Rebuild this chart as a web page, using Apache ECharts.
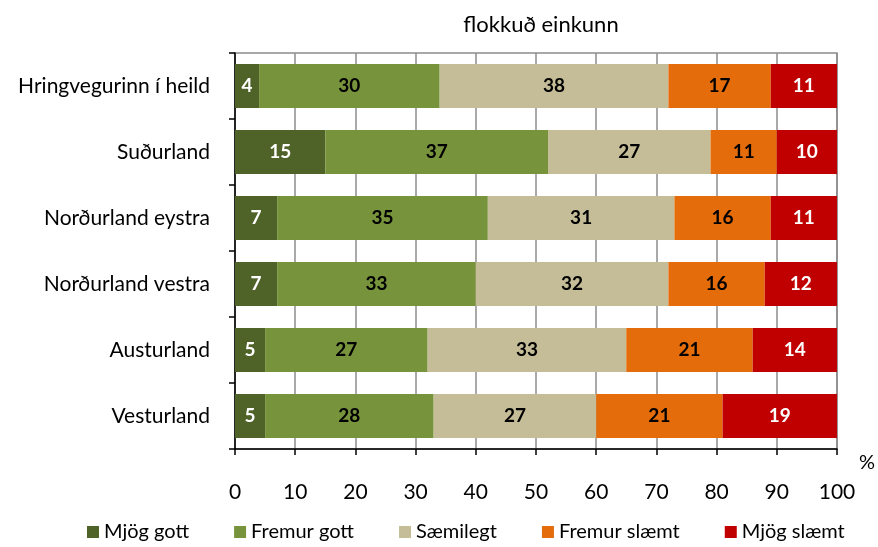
<!DOCTYPE html>
<html>
<head>
<meta charset="utf-8">
<script src="https://cdn.jsdelivr.net/npm/echarts@6/dist/echarts.min.js"></script>
<style>
  html, body { margin: 0; padding: 0; background: #fff; }
  #chart { width: 878px; height: 547px; }
</style>
</head>
<body>
<div id="chart"></div>
<script>
// flokkar (svæði), efst til neðst
const regions = ['Hringvegurinn í heild', 'Suðurland', 'Norðurland eystra', 'Norðurland vestra', 'Austurland', 'Vesturland'];
const seriesNames = ['Mjög gott', 'Fremur gott', 'Sæmilegt', 'Fremur slæmt', 'Mjög slæmt'];

// hlutföll í %
const mjogGott    = [4, 15, 7, 7, 5, 5];
const fremurGott  = [30, 37, 35, 33, 27, 28];
const saemilegt   = [38, 27, 31, 32, 33, 27];
const fremurSlaemt = [17, 11, 16, 16, 21, 21];
const mjogSlaemt  = [11, 10, 11, 12, 14, 19];

const xTicks = [0, 10, 20, 30, 40, 50, 60, 70, 80, 90, 100];

const colors = ['#4f6228', '#77933c', '#c4bd97', '#e46c0a', '#c00000'];
const labelColors = ['#ffffff', '#000000', '#000000', '#000000', '#ffffff'];
const allData = [mjogGott, fremurGott, saemilegt, fremurSlaemt, mjogSlaemt];

const font = 'Lato, "Open Sans", sans-serif';

const chart = echarts.init(document.getElementById('chart'));

const options = {
  animation: false,
  title: {
    text: 'flokkuð einkunn',
    left: 536,
    top: 9,
    textAlign: 'center',
    textStyle: { fontFamily: font, fontSize: 22, fontWeight: 'normal', color: '#000' }
  },
  legend: {
    bottom: 0,
    left: 82,
    icon: 'rect',
    itemWidth: 12,
    itemHeight: 12,
    itemGap: 45,
    data: seriesNames,
    textStyle: { fontFamily: font, fontSize: 20, color: '#000' }
  },
  grid: {
    left: 235,
    right: 40,
    top: 53,
    bottom: 98,
    show: true,
    borderColor: '#8c8c8c',
    borderWidth: 1.5
  },
  xAxis: {
    type: 'value',
    min: xTicks[0],
    max: xTicks[xTicks.length - 1],
    interval: 10,
    name: '%',
    nameLocation: 'end',
    nameGap: 22,
    nameTextStyle: { fontFamily: font, fontSize: 20, color: '#000', verticalAlign: 'top', padding: [4, 0, 0, 0] },
    axisLine: { show: true, lineStyle: { color: '#000', width: 1.5 } },
    axisTick: { show: true, length: 6, lineStyle: { color: '#000', width: 1.5 } },
    axisLabel: { fontFamily: font, fontSize: 21, color: '#000', margin: 33 },
    splitLine: { show: true, lineStyle: { color: '#8c8c8c', width: 1.5 } }
  },
  yAxis: {
    type: 'category',
    inverse: true,
    data: regions,
    axisLine: { show: true, lineStyle: { color: '#000', width: 1.5 } },
    axisTick: { show: true, length: 6, lineStyle: { color: '#000', width: 1.5 } },
    axisLabel: { fontFamily: font, fontSize: 21, color: '#000', margin: 25 }
  },
  series: seriesNames.map((name, i) => ({
    name: name,
    type: 'bar',
    stack: 'total',
    barCategoryGap: '33%',
    data: allData[i],
    itemStyle: { color: colors[i] },
    label: {
      show: true,
      position: 'inside',
      fontFamily: font,
      fontSize: 19,
      fontWeight: 'bold',
      color: labelColors[i]
    }
  }))
};

chart.setOption(options);
</script>
</body>
</html>
